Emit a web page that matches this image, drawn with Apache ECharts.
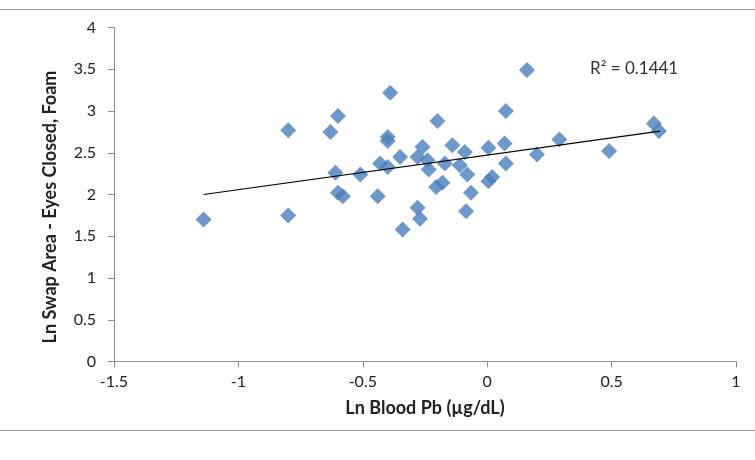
<!DOCTYPE html>
<html>
<head>
<meta charset="utf-8">
<script src="https://cdn.jsdelivr.net/npm/echarts@6/dist/echarts.min.js"></script>
<style>
  html, body { margin: 0; padding: 0; background: #fff; }
  #main { width: 755px; height: 460px; }
</style>
</head>
<body>
<div id="main"></div>
<script>
// Ln blood Pb (x) vs Ln swap area, eyes closed, foam (y)
var xValues = [-1.14, -0.80, -0.80, -0.63, -0.60, -0.61, -0.60, -0.58, -0.51, -0.44,
               -0.43, -0.40, -0.39, -0.40, -0.40, -0.35, -0.34, -0.28, -0.27, -0.28,
               -0.26, -0.24, -0.235, -0.20, -0.18, -0.205, -0.17, -0.14, -0.11, -0.09,
               -0.08, -0.065, -0.085, 0.005, 0.02, 0.005, 0.07, 0.075, 0.075, 0.16,
               0.20, 0.29, 0.49, 0.67, 0.69];
var yValues = [1.70, 1.75, 2.77, 2.75, 2.94, 2.26, 2.02, 1.98, 2.24, 1.98,
               2.37, 2.33, 3.22, 2.69, 2.64, 2.45, 1.58, 1.84, 1.71, 2.45,
               2.57, 2.41, 2.30, 2.88, 2.14, 2.09, 2.37, 2.59, 2.35, 2.51,
               2.24, 2.02, 1.80, 2.56, 2.21, 2.16, 2.61, 2.37, 3.00, 3.49,
               2.48, 2.66, 2.52, 2.85, 2.76];

// linear trend line end points
var trendX = [-1.14, 0.695];
var trendY = [2.00, 2.76];
var r2Label = 'R² = 0.1441';
var xTitle = 'Ln Blood Pb (µg/dL)';
var yTitle = 'Ln Swap Area - Eyes Closed, Foam';

var xTicks = ['-1.5', '-1', '-0.5', '0', '0.5', '1'];
var yTicks = ['0', '0.5', '1', '1.5', '2', '2.5', '3', '3.5', '4'];

var points = [];
for (let i = 0; i < xValues.length; i++) {
    points.push([xValues[i], yValues[i]]);
}
var trend = [];
for (let i = 0; i < trendX.length; i++) {
    trend.push([trendX[i], trendY[i]]);
}

var font = 'Lato, "Open Sans", sans-serif';
var axisGray = '#8c8c8c';

let chart = echarts.init(document.getElementById('main'));
let option = {
    animation: false,
    backgroundColor: '#fff',
    grid: {
        left: 114,
        right: 19,
        top: 27.5,
        bottom: 98.5
    },
    xAxis: {
        type: 'value',
        min: -1.5,
        max: 1,
        interval: 0.5,
        name: xTitle,
        nameLocation: 'middle',
        nameGap: 38,
        nameTextStyle: { fontFamily: font, fontSize: 18, fontWeight: 'bold', color: '#222' },
        axisLine: { onZero: false, lineStyle: { color: axisGray, width: 1 } },
        axisTick: { show: true, inside: false, length: 6, lineStyle: { color: axisGray } },
        splitLine: { show: false },
        axisLabel: {
            margin: 12,
            fontFamily: font,
            fontSize: 16,
            color: '#222',
            formatter: function (v) {
                let idx = Math.round((v + 1.5) / 0.5);
                return xTicks[idx] !== undefined ? xTicks[idx] : '';
            }
        }
    },
    yAxis: {
        type: 'value',
        min: 0,
        max: 4,
        interval: 0.5,
        axisLine: { show: true, onZero: false, lineStyle: { color: axisGray, width: 1 } },
        axisTick: { show: true, inside: false, length: 6, lineStyle: { color: axisGray } },
        splitLine: { show: false },
        axisLabel: {
            margin: 18,
            fontFamily: font,
            fontSize: 16,
            color: '#222',
            formatter: function (v) {
                let idx = Math.round(v / 0.5);
                return yTicks[idx] !== undefined ? yTicks[idx] : '';
            }
        }
    },
    graphic: [
        {
            type: 'line',
            shape: { x1: 0, y1: 9.5, x2: 755, y2: 9.5 },
            style: { stroke: '#9a9a9a', lineWidth: 1 }
        },
        {
            type: 'line',
            shape: { x1: 0, y1: 430.5, x2: 755, y2: 430.5 },
            style: { stroke: '#9a9a9a', lineWidth: 1 }
        },
        {
            // y axis title, sits a bit below the plot centre like the original
            type: 'text',
            x: 50,
            y: 207,
            rotation: Math.PI / 2,
            style: {
                text: yTitle,
                fontFamily: font,
                fontSize: 18,
                fontWeight: 'bold',
                fill: '#222',
                align: 'center',
                verticalAlign: 'middle'
            }
        },
        {
            type: 'text',
            left: 590,
            top: 60,
            style: { text: r2Label, fontFamily: font, fontSize: 17, fill: '#333' }
        }
    ],
    series: [
        {
            type: 'scatter',
            symbol: 'diamond',
            symbolSize: [16, 16],
            itemStyle: { color: '#4a7ebb' },
            data: points,
            z: 2
        },
        {
            type: 'line',
            showSymbol: false,
            data: trend,
            lineStyle: { color: '#000', width: 1.2 },
            z: 3
        }
    ]
};
chart.setOption(option);
</script>
</body>
</html>
